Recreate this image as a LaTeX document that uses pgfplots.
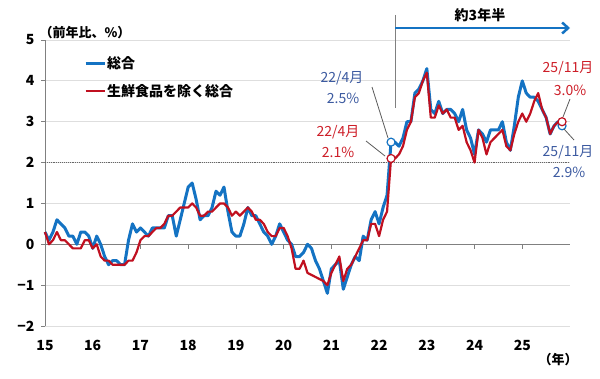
\documentclass[border=0pt]{standalone}
\usepackage{fontspec}
\setmainfont{Noto Sans CJK JP}
\usepackage{pgfplots}
\pgfplotsset{compat=1.18}
\usetikzlibrary{arrows.meta}
\definecolor{cblue}{RGB}{20,115,195}
\definecolor{cred}{RGB}{192,16,32}
\definecolor{tblue}{RGB}{60,90,160}
\definecolor{tred}{RGB}{205,30,40}
\definecolor{gridc}{RGB}{222,222,222}
\definecolor{axisc}{RGB}{128,128,128}
\definecolor{leadc}{RGB}{90,90,90}

\pgfplotstableread{
m v
0 0.3
1 0.1
2 0.3
3 0.6
4 0.5
5 0.4
6 0.2
7 0.2
8 0.0
9 0.3
10 0.3
11 0.2
12 -0.1
13 0.2
14 0.0
15 -0.3
16 -0.5
17 -0.4
18 -0.4
19 -0.5
20 -0.5
21 0.1
22 0.5
23 0.3
24 0.4
25 0.3
26 0.2
27 0.4
28 0.4
29 0.4
30 0.4
31 0.7
32 0.7
33 0.2
34 0.6
35 1.0
36 1.4
37 1.5
38 1.1
39 0.6
40 0.7
41 0.7
42 0.9
43 1.3
44 1.2
45 1.4
46 0.8
47 0.3
48 0.2
49 0.2
50 0.5
51 0.9
52 0.7
53 0.7
54 0.5
55 0.3
56 0.2
57 0.0
58 0.2
59 0.5
60 0.3
61 0.1
62 0.0
63 -0.3
64 -0.3
65 -0.2
66 0.0
67 -0.1
68 -0.4
69 -0.6
70 -0.9
71 -1.2
72 -0.6
73 -0.5
74 -0.4
75 -1.1
76 -0.8
77 -0.5
78 -0.3
79 -0.4
80 0.2
81 0.1
82 0.6
83 0.8
84 0.5
85 0.9
86 1.2
87 2.5
88 2.5
89 2.4
90 2.6
91 3.0
92 3.0
93 3.7
94 3.8
95 4.0
96 4.3
97 3.3
98 3.2
99 3.5
100 3.2
101 3.3
102 3.3
103 3.2
104 3.0
105 3.3
106 2.8
107 2.6
108 2.2
109 2.8
110 2.7
111 2.5
112 2.8
113 2.8
114 2.8
115 3.0
116 2.5
117 2.3
118 2.9
119 3.6
120 4.0
121 3.7
122 3.6
123 3.6
124 3.5
125 3.3
126 3.1
127 2.7
128 2.9
129 3.0
130 2.9
}\sogo

\pgfplotstableread{
m v
0 0.3
1 0.0
2 0.1
3 0.3
4 0.1
5 0.1
6 0.0
7 -0.1
8 -0.1
9 -0.1
10 0.1
11 0.1
12 -0.1
13 0.0
14 -0.3
15 -0.4
16 -0.4
17 -0.5
18 -0.5
19 -0.5
20 -0.5
21 -0.4
22 -0.4
23 -0.2
24 0.1
25 0.2
26 0.2
27 0.3
28 0.4
29 0.4
30 0.5
31 0.7
32 0.7
33 0.8
34 0.9
35 0.9
36 0.9
37 1.0
38 0.9
39 0.7
40 0.7
41 0.8
42 0.8
43 0.9
44 1.0
45 1.0
46 0.9
47 0.7
48 0.8
49 0.7
50 0.8
51 0.9
52 0.8
53 0.6
54 0.6
55 0.5
56 0.3
57 0.2
58 0.2
59 0.4
60 0.4
61 0.2
62 -0.1
63 -0.6
64 -0.6
65 -0.4
66 -0.7
67 -0.75
68 -0.8
69 -0.85
70 -0.9
71 -1.0
72 -0.7
73 -0.5
74 -0.3
75 -0.9
76 -0.6
77 -0.5
78 -0.3
79 -0.1
80 0.1
81 0.1
82 0.5
83 0.5
84 0.2
85 0.6
86 0.8
87 2.1
88 2.1
89 2.2
90 2.4
91 2.8
92 3.0
93 3.6
94 3.7
95 4.0
96 4.2
97 3.1
98 3.1
99 3.4
100 3.2
101 3.3
102 3.1
103 3.1
104 2.8
105 2.9
106 2.5
107 2.3
108 2.0
109 2.8
110 2.6
111 2.2
112 2.5
113 2.6
114 2.7
115 2.8
116 2.4
117 2.3
118 2.7
119 3.0
120 3.2
121 3.0
122 3.2
123 3.5
124 3.7
125 3.3
126 3.1
127 2.7
128 2.9
129 3.0
130 3.0
}\core

\begin{document}
\begin{tikzpicture}[x=1bp,y=1bp]
\useasboundingbox (0,0) rectangle (600,378);
\begin{axis}[
  at={(45bp,52bp)}, anchor=south west,
  scale only axis, width=525bp, height=286bp,
  xmin=0, xmax=132, ymin=-2, ymax=5,
  clip=false,
  axis x line*=bottom, axis y line*=left,
  x axis line style={draw=none},
  y axis line style={axisc, line width=0.8bp},
  xtick={0,12,24,36,48,60,72,84,96,108,120},
  xticklabels={15,16,17,18,19,20,21,22,23,24,25},
  xtick style={draw=none},
  ytick={-2,-1,0,1,2,3,4,5},
  yticklabels={−2,−1,0,1,2,3,4,5},
  ytick style={axisc, line width=0.8bp},
  tick align=outside,
  major tick length=4bp,
  ymajorgrids, grid style={gridc, line width=0.8bp},
  every tick label/.append style={font=\fontsize{14bp}{16bp}\selectfont\bfseries},
  x tick label style={yshift=-7bp},
  y tick label style={xshift=-3bp},
  legend style={at={(rel axis cs:0.074,0.945)}, anchor=north west, draw=none, fill=none,
    font=\fontsize{14bp}{16bp}\selectfont\bfseries, row sep=12bp, inner sep=0pt,
    nodes={inner sep=1bp}},
  legend cell align=left,
  legend image code/.code={\draw[#1] (0bp,0bp) -- (19bp,0bp);},
]
\draw[axisc, line width=0.9bp] (axis cs:0,0) -- (axis cs:132,0);
\draw[axisc!80!black, line width=0.9bp, densely dotted] (axis cs:0,2) -- (axis cs:132,2);
\pgfplotsinvokeforeach{12,24,36,48,60,72,84,96,108,120}{
  \draw[axisc, line width=0.8bp] (axis cs:#1,0) -- (axis cs:#1,-0.12);
}
\addplot[cblue, line width=3bp, line join=round] table[x=m,y=v] {\sogo};
\addlegendentry{総合}
\addplot[cred, line width=2.2bp, line join=round] table[x=m,y=v] {\core};
\addlegendentry{生鮮食品を除く総合}
\addplot[forget plot, only marks, mark=*, mark size=4bp, mark options={draw=cblue, fill=white, line width=1.2bp}] coordinates {(87,2.5) (130,2.9)};
\addplot[forget plot, only marks, mark=*, mark size=4bp, mark options={draw=cred, fill=white, line width=1.2bp}] coordinates {(87,2.1) (130,3.0)};
\end{axis}
% annotations (1bp = 1px, y measured from bottom)
\node[font=\fontsize{13bp}{15bp}\selectfont\bfseries] at (85,345) {（前年比、\%）};
\node[font=\fontsize{13bp}{15bp}\selectfont\bfseries] at (558,18) {（年）};
\node[font=\fontsize{14bp}{16bp}\selectfont\bfseries] at (480,363) {約3年半};
\draw[axisc, line width=1bp] (395,363) -- (395,270);
\draw[cblue, line width=2.5bp, -{Straight Barb[length=6bp,width=11bp]}] (395,350) -- (570,350);
\node[tblue, font=\fontsize{14bp}{16bp}\selectfont] at (342,300) {22/4月};
\node[tblue, font=\fontsize{14bp}{16bp}\selectfont] at (343,280) {2.5\%};
\draw[leadc, line width=0.8bp] (372,291) -- (388,240);
\node[tred, font=\fontsize{14bp}{16bp}\selectfont] at (338,246) {22/4月};
\node[tred, font=\fontsize{14bp}{16bp}\selectfont] at (338,226) {2.1\%};
\draw[leadc, line width=0.8bp] (366,237) -- (385,222);
\node[tred, font=\fontsize{14bp}{16bp}\selectfont] at (568,310) {25/11月};
\node[tred, font=\fontsize{14bp}{16bp}\selectfont] at (570,288) {3.0\%};
\draw[leadc, line width=0.8bp] (570,279) -- (563,261);
\node[tblue, font=\fontsize{14bp}{16bp}\selectfont] at (568,226) {25/11月};
\node[tblue, font=\fontsize{14bp}{16bp}\selectfont] at (569,206) {2.9\%};
\draw[leadc, line width=0.8bp] (564,249) -- (574,238);
\end{tikzpicture}
\end{document}
